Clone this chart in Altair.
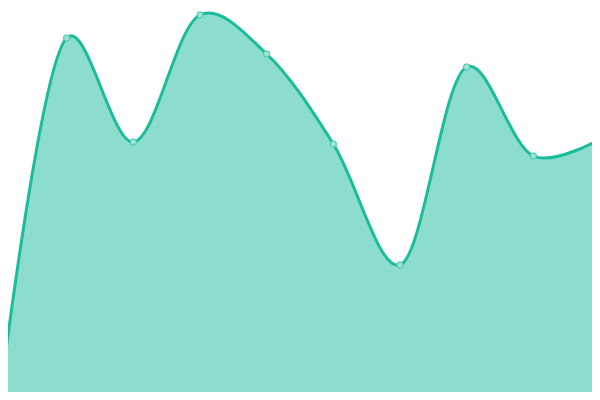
import altair as alt
import pandas as pd

idx = [0, 1, 2, 3, 4, 5, 6, 7, 8, 9]
values = [2, 362, 258, 385, 346, 256, 135, 333, 244, 261]

df = pd.DataFrame({"i": idx, "v": values})

# visible window of the chart (page has an 8px margin)
x_domain = [0.12, 8.88]
y_domain = [8, 392]

x = alt.X("i:Q", scale=alt.Scale(domain=x_domain, nice=False, zero=False), axis=None)
y = alt.Y("v:Q", scale=alt.Scale(domain=y_domain, nice=False, zero=False), axis=None)

base = alt.Chart(df).encode(x=x, y=y)

area = base.mark_area(interpolate="catmull-rom", tension=0.25, color="#1abc9c",
                      fillOpacity=0.5, clip=True)
line = base.mark_line(interpolate="catmull-rom", tension=0.25, color="#1abc9c",
                      strokeWidth=3, clip=True)
pts = base.mark_point(filled=True, fill="#9de4d6", stroke="#3cc6a8", strokeWidth=1,
                      size=40, opacity=1, clip=True)

chart = (area + line + pts).properties(
    width=584, height=384, padding=0,
    autosize=alt.AutoSizeParams(type="fit", contains="padding"),
    view=alt.ViewBackground(stroke="transparent", strokeWidth=0),
).configure_view(strokeWidth=0, stroke="transparent")

chart.save("out.html", embed_options={"renderer": "svg", "actions": False})
